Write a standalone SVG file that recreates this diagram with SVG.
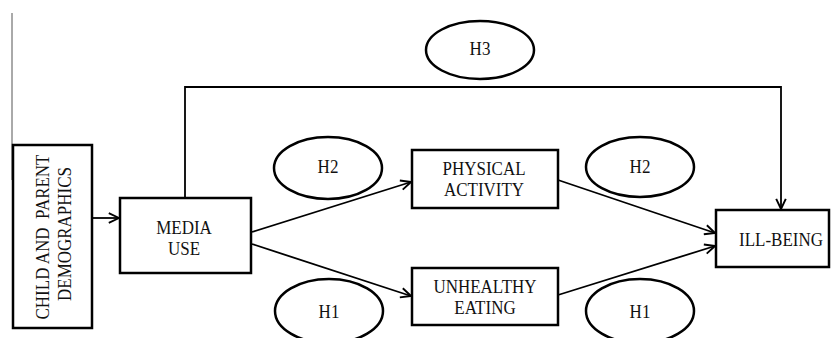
<svg xmlns="http://www.w3.org/2000/svg" width="832" height="338" viewBox="0 0 832 338">
<style>
.box{fill:#fff;stroke:#000;stroke-width:2.5}
.ell{fill:#fff;stroke:#000;stroke-width:2.5}
text{font-family:'Liberation Serif','DejaVu Serif',serif;fill:#111;text-anchor:middle}
.lbl{font-size:17px}
.h{font-size:17px}
.con{fill:none;stroke:#000;stroke-width:1.8}
</style>
<defs>
<marker id="arr" markerUnits="userSpaceOnUse" markerWidth="12" markerHeight="12" viewBox="0 0 10 10" refX="9.5" refY="5" orient="auto">
<path d="M1,1 L9.5,5 L1,9" fill="none" stroke="#000" stroke-width="1.6"/>
</marker>
</defs>
<line x1="12" y1="13" x2="12" y2="180" stroke="#555" stroke-width="1"/>
<g id="connectors">
<path class="con" d="M92,218 L119,218" marker-end="url(#arr)"/>
<path class="con" d="M185,198 L185,87 L781,87 L781,209" marker-end="url(#arr)"/>
<path class="con" d="M252,232 L411,182" marker-end="url(#arr)"/>
<path class="con" d="M252,244 L411,296" marker-end="url(#arr)"/>
<path class="con" d="M558,180 L715,233" marker-end="url(#arr)"/>
<path class="con" d="M558,295 L715,246" marker-end="url(#arr)"/>
</g>
<g id="demographics">
<rect class="box" x="13" y="145" width="79" height="183"/>
<text class="lbl" transform="translate(49,237) rotate(-90) scale(1,1.12)" x="0" y="0">CHILD AND&#160; PARENT</text>
<text class="lbl" transform="translate(71,234) rotate(-90) scale(1,1.12)" x="0" y="0">DEMOGRAPHICS</text>
</g>
<g id="media">
<rect class="box" x="120" y="198" width="131" height="75"/>
<text class="lbl" transform="translate(184,234) scale(1,1.12)">MEDIA</text>
<text class="lbl" transform="translate(184,255) scale(1,1.12)">USE</text>
</g>
<g id="physical">
<rect class="box" x="412" y="150" width="146" height="58"/>
<text class="lbl" transform="translate(484,175) scale(1,1.12)">PHYSICAL</text>
<text class="lbl" transform="translate(484,196) scale(1,1.12)">ACTIVITY</text>
</g>
<g id="eating">
<rect class="box" x="412" y="268" width="146" height="57"/>
<text class="lbl" transform="translate(485,293) scale(1,1.12)">UNHEALTHY</text>
<text class="lbl" transform="translate(485,314) scale(1,1.12)">EATING</text>
</g>
<g id="illbeing">
<rect class="box" x="716" y="210" width="113" height="57"/>
<text class="lbl" transform="translate(781,246) scale(1,1.12)">ILL-BEING</text>
</g>
<g id="h3">
<ellipse class="ell" cx="480" cy="50" rx="54" ry="29"/>
<text class="h" transform="translate(480,55) scale(1,1.1)">H3</text>
</g>
<g id="h2-left">
<ellipse class="ell" cx="328" cy="168" rx="54" ry="31"/>
<text class="h" transform="translate(328,173) scale(1,1.1)">H2</text>
</g>
<g id="h2-right">
<ellipse class="ell" cx="640" cy="167" rx="54" ry="30"/>
<text class="h" transform="translate(640,173) scale(1,1.1)">H2</text>
</g>
<g id="h1-left">
<ellipse class="ell" cx="329" cy="311" rx="54" ry="32"/>
<text class="h" transform="translate(329,318) scale(1,1.1)">H1</text>
</g>
<g id="h1-right">
<ellipse class="ell" cx="640" cy="311" rx="54" ry="32"/>
<text class="h" transform="translate(640,318) scale(1,1.1)">H1</text>
</g>
</svg>
